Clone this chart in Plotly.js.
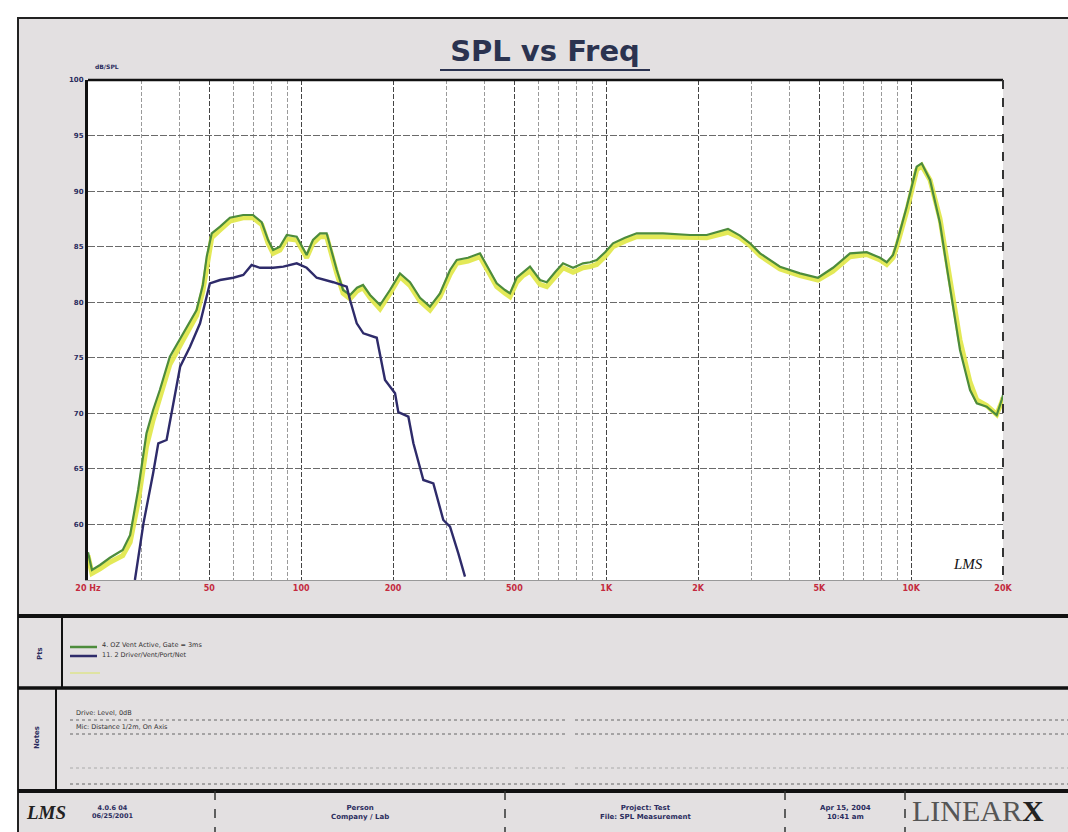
<!DOCTYPE html>
<html><head><meta charset="utf-8">
<script src="https://cdn.plot.ly/plotly-3.0.1.min.js"></script>
<style>html,body{margin:0;padding:0;background:#fff;}#chart{width:1068px;height:832px;}</style>
</head><body><div id="chart"></div>
<script>
// ---- data ----
const freqA = [20,20.6,21.9,23.6,26.0,27.5,29.2,31.1,32.7,34.4,
  37.1,41.0,45.4,47.6,49.0,50.9,54.2,58.4,64.5,69.5,
  74.2,77.9,80.9,85.2,89.7,96.7,99.9,104.2,109.3,115.3,
  121.2,125.2,130.8,137.2,144.6,152.4,159.5,168.2,181.3,195.5,
  210.8,227.4,245.2,264.4,285.2,307.6,323.6,352.4,385.7,409.8,
  437.5,465.8,483.6,508.8,533.6,562.6,606.8,638.4,679.4,721.8,
  778.6,839.6,885.2,931.2,991.2,1052.8,1152.8,1259,1535,1883,
  2136,2508,2746,2962,3194,3714,4320,4948,5542,6302,
  7148,7904,8314,8718,8966,9670,10424,10824,11528,12432,
  13078,13742,14456,15594,16404,17692,19070,19802,20000];
const splGreen = [57.5,55.9,56.35,57.0,57.7,59.05,63.1,68.2,70.3,72.1,
  75.1,77.2,79.3,81.55,84.1,86.2,86.8,87.6,87.85,87.85,
  87.2,85.6,84.7,85.0,86.05,85.9,85.15,84.25,85.6,86.2,
  86.2,84.7,82.9,81.1,80.65,81.3,81.55,80.65,79.75,81.1,
  82.6,81.8,80.4,79.6,80.8,82.9,83.8,84.0,84.4,83.1,
  81.7,81.1,80.8,82.2,82.7,83.2,82.0,81.8,82.7,83.5,
  83.1,83.5,83.6,83.8,84.5,85.3,85.8,86.2,86.2,86.05,
  86.05,86.6,86.0,85.3,84.4,83.2,82.6,82.2,83.1,84.4,
  84.5,84.0,83.6,84.25,85.3,88.6,92.2,92.5,91.0,87.1,
  83.2,79.6,75.7,72.1,70.9,70.6,69.85,71.2,71.65];
const splYellow = [57.2,55.6,56.0,56.6,57.2,58.4,62.0,67.0,69.4,71.3,
  74.4,76.6,78.8,81.0,83.4,85.8,86.5,87.3,87.6,87.6,
  87.0,85.3,84.4,84.7,85.7,85.6,84.9,84.0,85.3,85.9,
  85.9,84.4,82.6,80.8,80.3,81.0,81.3,80.4,79.4,80.8,
  82.3,81.5,80.1,79.3,80.5,82.5,83.5,83.7,84.1,82.8,
  81.4,80.8,80.5,81.8,82.4,82.8,81.6,81.4,82.3,83.1,
  82.7,83.1,83.2,83.4,84.1,85.0,85.5,85.9,85.9,85.8,
  85.8,86.3,85.8,85.1,84.2,83.0,82.4,82.0,82.8,84.1,
  84.3,83.8,83.4,84.0,85.0,88.2,91.9,92.3,91.0,87.5,
  83.8,80.4,76.6,72.8,71.2,70.7,69.9,71.0,71.4];
const freqB = [28.5,30.4,32.7,34.0,36.2,40.1,43.2,46.6,50.2,54.2,
  59.9,64.6,68.8,73.3,80.9,87.4,96.7,104.2,112.4,127.4,
  141.0,144.6,152.1,159.9,176.9,188.3,203.1,208.2,224.6,233.3,
  251.5,271.2,292.4,307.6,327.5,344.4];
const splNavy = [55.0,60.1,64.6,67.3,67.6,74.2,76.0,78.1,81.7,82.0,
  82.2,82.45,83.35,83.1,83.1,83.2,83.5,83.1,82.2,81.8,
  81.4,80.2,78.1,77.2,76.8,73.0,71.8,70.1,69.7,67.3,
  64.0,63.7,60.4,59.8,57.4,55.3];
const xTickVals = [20,50,100,200,500,1000,2000,5000,10000,20000];
const xTickText = ['20 Hz','50','100','200','500','1K','2K','5K','10K','20K'];
const xMinorVals = [30,40,60,70,80,90,300,400,600,700,800,900,3000,4000,6000,7000,8000,9000];
const yTickVals = [60,65,70,75,80,85,90,95,100];
const yTickText = ['60','65','70','75','80','85','90','95','100'];
const seriesNames = ['4. OZ Vent Active, Gate = 3ms','11. 2 Driver/Vent/Port/Net'];

// ---- page geometry helpers (pixel -> paper) ----
const L=88, R=1003, T=80, B=580;
const px = X => (X-L)/(R-L);
const py = Y => (B-Y)/(B-T);
const NAVY='#2b2d5e';

const traces = [
  {x:freqA, y:splYellow, type:'scatter', mode:'lines', name:'ref', line:{color:'rgba(226,232,78,0.95)', width:5}, hoverinfo:'x+y'},
  {x:freqA, y:splGreen, type:'scatter', mode:'lines', name:seriesNames[0], line:{color:'#4d8c3c', width:2.2}},
  {x:freqB, y:splNavy, type:'scatter', mode:'lines', name:seriesNames[1], line:{color:'#2e2b6a', width:2.4}}
];

function hline(Y,X0,X1,w,c,d){return {type:'line',xref:'paper',yref:'paper',x0:px(X0),x1:px(X1),y0:py(Y),y1:py(Y),line:{color:c||'#111',width:w,dash:d||'solid'},layer:'above'};}
function vline(X,Y0,Y1,w,c,d){return {type:'line',xref:'paper',yref:'paper',x0:px(X),x1:px(X),y0:py(Y0),y1:py(Y1),line:{color:c||'#111',width:w,dash:d||'solid'},layer:'above'};}

const shapes = [
  {type:'rect',xref:'paper',yref:'paper',x0:px(18),x1:px(1080),y0:py(18),y1:py(845),fillcolor:'#e3e0e1',line:{color:'#222',width:2},layer:'below'},
  {type:'rect',xref:'paper',yref:'paper',x0:px(L),x1:px(R),y0:py(T),y1:py(B),fillcolor:'#ffffff',line:{width:0},layer:'below'},
  hline(T,L,R,2.5,'#111'),
  vline(R,T,B,2,'#333','dash'),
  hline(70,440,650,2,'#2b3350'),
  hline(616,18,1068,4),
  vline(62,616,688,2),
  hline(688,18,1068,3.5),
  vline(56,688,791,2),
  hline(720,70,565,1,'#666','dot'), hline(720,575,1068,1,'#666','dot'),
  hline(734,70,565,1,'#666','dot'), hline(734,575,1068,1,'#666','dot'),
  hline(768,70,565,1,'#aaa','dot'), hline(768,575,1068,1,'#aaa','dot'),
  hline(784,70,565,1,'#666','dot'), hline(784,575,1068,1,'#666','dot'),
  hline(791,18,1068,4),
  vline(215,791,832,1.5,'#333','dash'),
  vline(505,791,832,1.5,'#333','dash'),
  vline(785,791,832,1.5,'#333','dash'),
  vline(905,791,832,1.5,'#333','dash'),
  hline(647,70,97,2.5,'#4d8c3c'),
  hline(656,70,97,2.5,'#2e2b6a'),
  hline(673,70,100,2,'rgba(220,228,120,0.6)')
];

const f = (s,c,extra) => Object.assign({family:'DejaVu Sans, Arial, sans-serif', size:s, color:c||NAVY}, extra||{});
function ann(X,Y,text,font,xa,extra){return Object.assign({xref:'paper',yref:'paper',x:px(X),y:py(Y),text:text,showarrow:false,xanchor:xa||'center',yanchor:'middle',font:font},extra||{});}

const annotations = [
  ann(93,67,'dB/SPL',f(6,NAVY,{weight:'bold'}),'left'),
  ann(968,564,'<i>LMS</i>',{family:'Liberation Serif, serif',size:15,color:'#111'}),
  ann(40,654,'Pts',f(7,NAVY,{weight:'bold'}),'center',{textangle:-90}),
  ann(100,645,seriesNames[0],f(6.5,'#333'),'left'),
  ann(100,655,seriesNames[1],f(6.5,'#333'),'left'),
  ann(37,738,'Notes',f(7,NAVY,{weight:'bold'}),'center',{textangle:-90}),
  ann(74,713,'Drive: Level, 0dB',f(6.5,'#333'),'left'),
  ann(74,727,'Mic: Distance 1/2m, On Axis',f(6.5,'#333'),'left'),
  ann(46,812,'<i><b>LMS</b></i>',{family:'Liberation Serif, serif',size:19,color:'#222'}),
  ann(90,812,'4.0.6 04<br>06/25/2001',f(6.5,NAVY,{weight:'bold'}),'left'),
  ann(360,812,'Person<br>Company / Lab',f(7,NAVY,{weight:'bold'})),
  ann(645,812,'Project: Test<br>File: SPL Measurement',f(7,NAVY,{weight:'bold'})),
  ann(845,812,'Apr 15, 2004<br>10:41 am',f(7,NAVY,{weight:'bold'})),
  ann(910,810,'<span style="font-weight:normal;color:#555">LINEAR</span><b>X</b>',{family:'Liberation Serif, serif',size:30,color:'#222'},'left')
];

const layout = {
  width:1068, height:832,
  margin:{l:L, r:1068-R, t:T, b:832-B, pad:0},
  paper_bgcolor:'#ffffff', plot_bgcolor:'rgba(0,0,0,0)',
  showlegend:false,
  title:{text:'SPL vs Freq', x:545/1068, xanchor:'center', y:1-51/832, yanchor:'middle',
    font:{family:'DejaVu Sans, Arial, sans-serif', size:29, color:'#2b3350', weight:'bold'}},
  xaxis:{type:'log', range:[Math.log10(20), Math.log10(20000)], tickmode:'array',
    tickvals:xTickVals, ticktext:xTickText, ticks:'',
    tickfont:f(8,'#c42a3e',{weight:'bold'}),
    showgrid:true, gridcolor:'#444', griddash:'5px,2px', gridwidth:1,
    minor:{tickvals:xMinorVals, showgrid:true, gridcolor:'#9a9a9a', griddash:'4px,2px', gridwidth:1, ticks:''},
    showline:true, linecolor:'#999', linewidth:1, zeroline:false, fixedrange:true},
  yaxis:{range:[55,100], tickmode:'array', tickvals:yTickVals, ticktext:yTickText, ticks:'',
    tickfont:f(7,NAVY,{weight:'bold'}),
    showgrid:true, gridcolor:'#6a6a6a', griddash:'7px,2px', gridwidth:1,
    showline:true, linecolor:'#111', linewidth:3, zeroline:false, fixedrange:true},
  shapes:shapes, annotations:annotations
};

Plotly.newPlot('chart', traces, layout, {displayModeBar:false, staticPlot:true});
</script>
</body></html>
